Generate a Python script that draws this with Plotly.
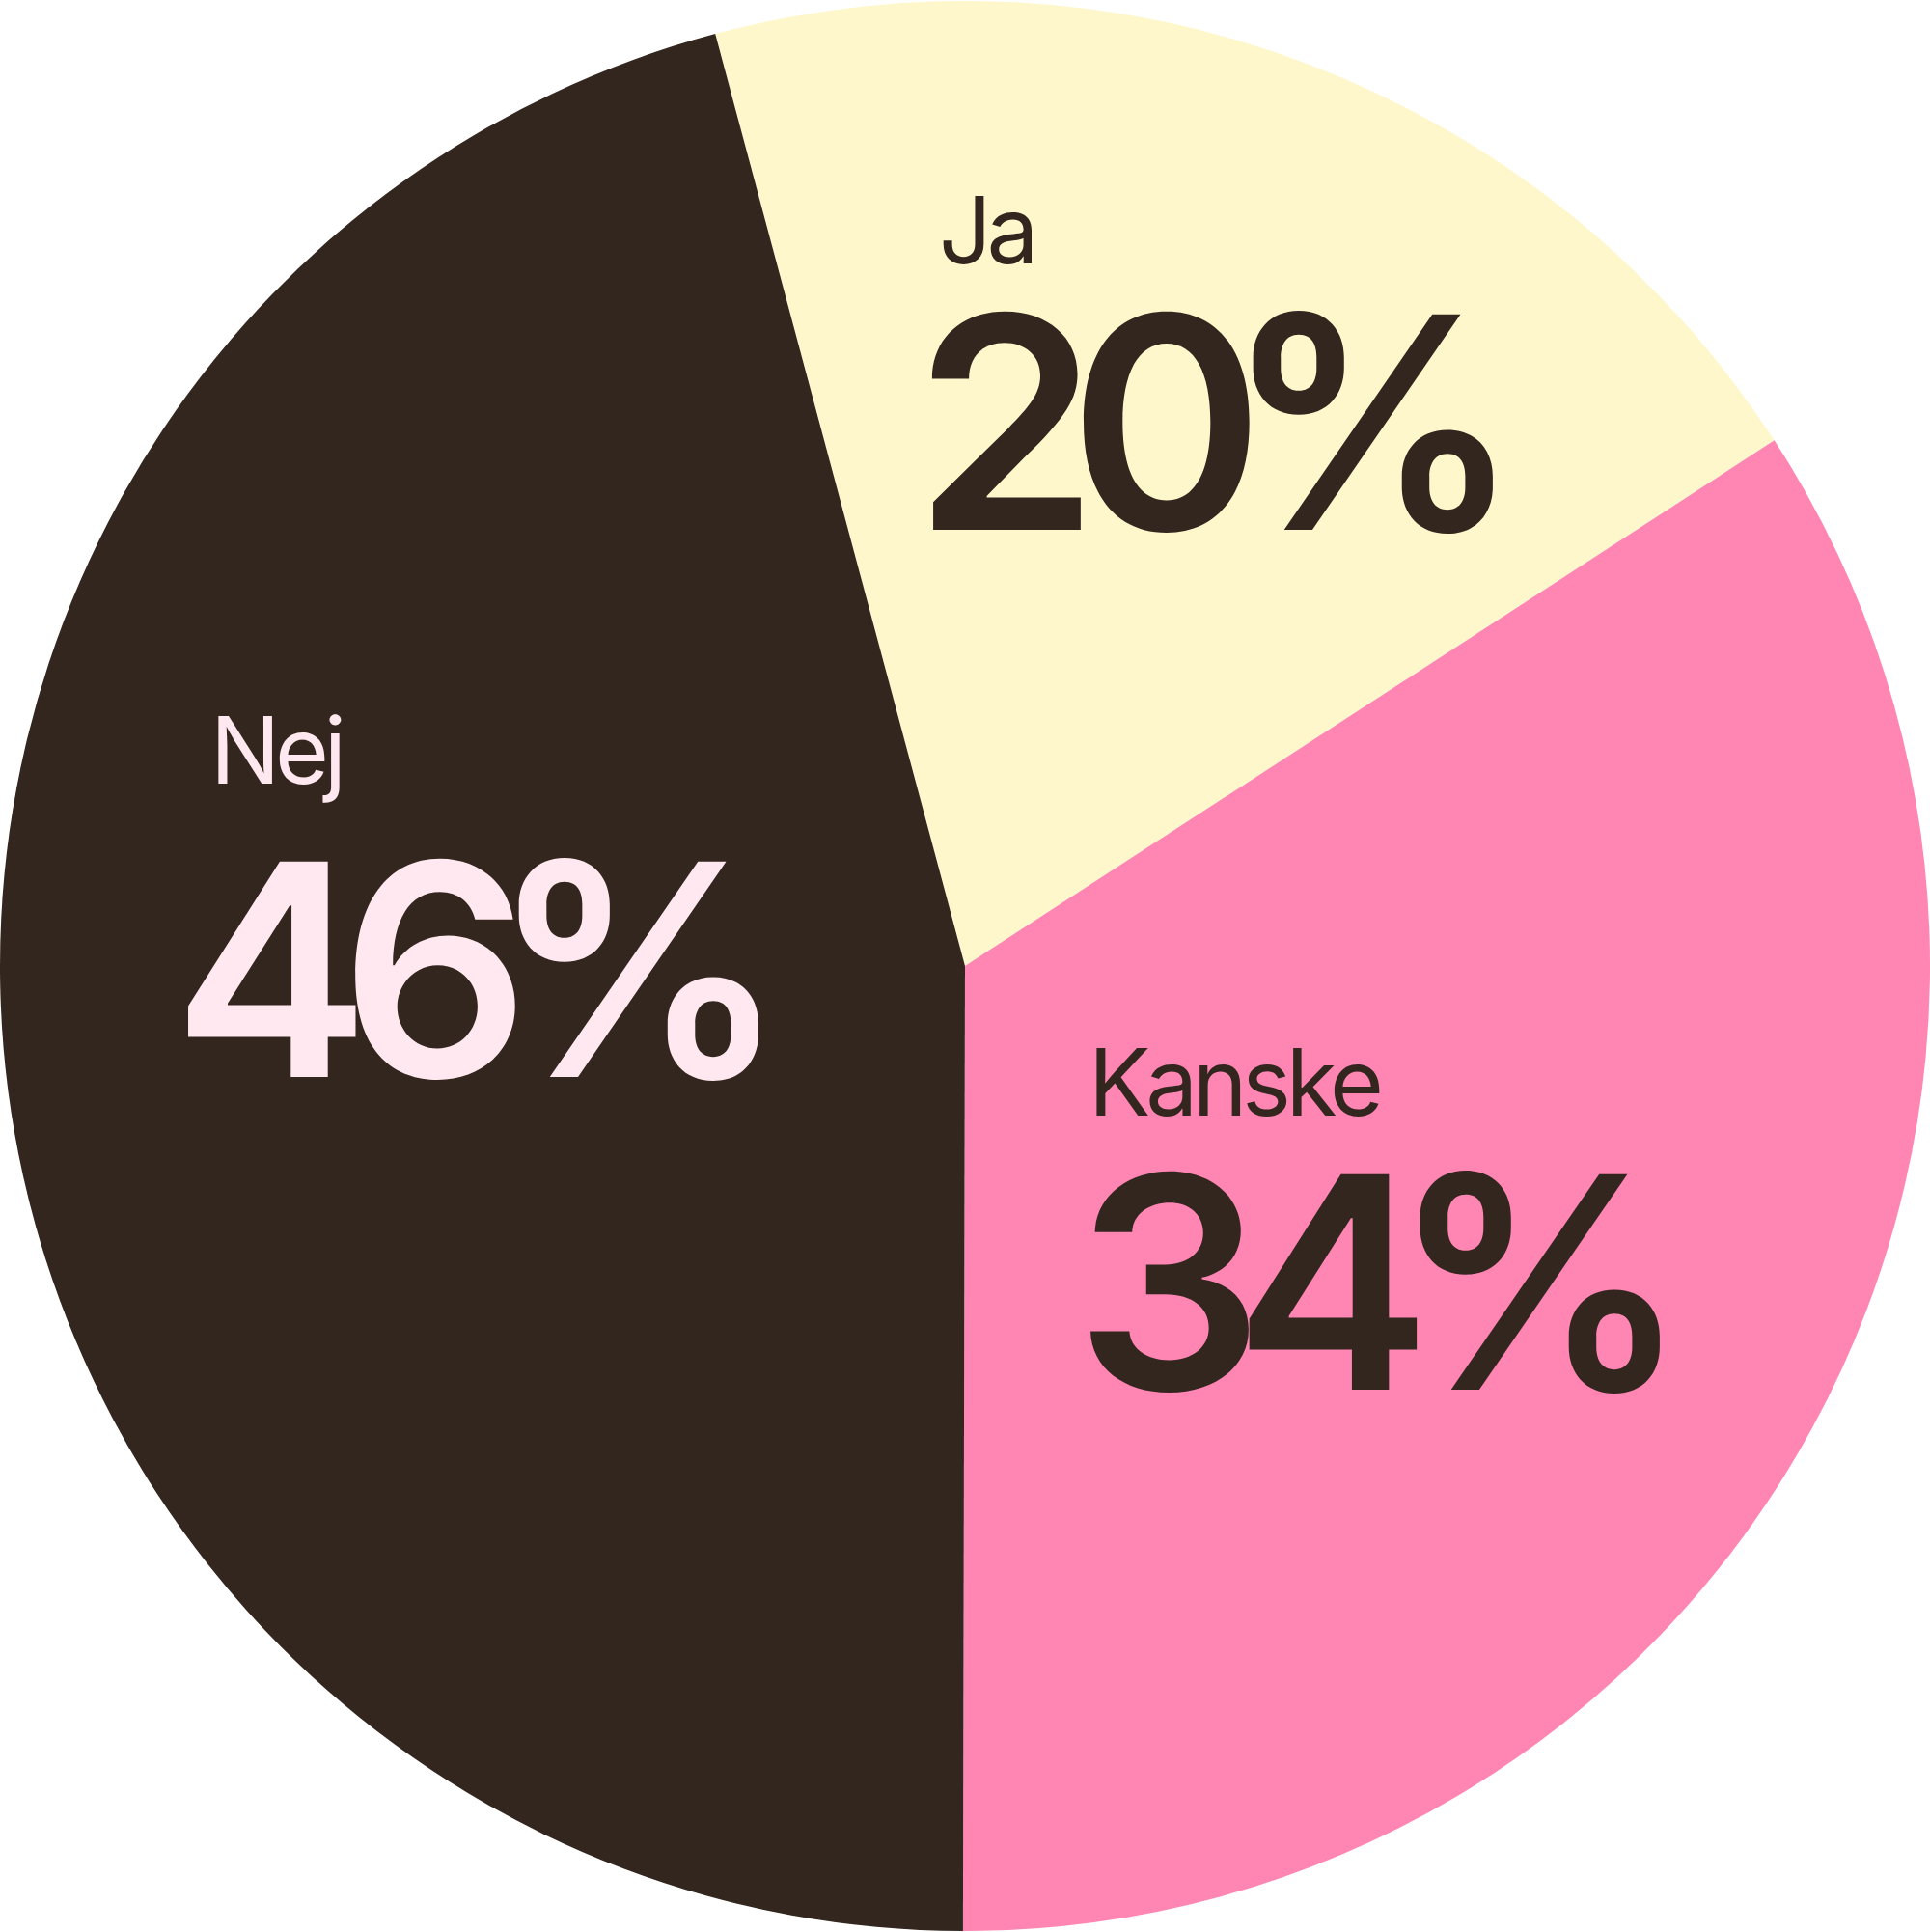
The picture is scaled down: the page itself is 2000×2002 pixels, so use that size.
import plotly.graph_objects as go

# Data
labels = ["Ja", "Kanske", "Nej"]
values = [20.0, 34.2, 45.8]
pct_numbers = [str(round(v)) for v in values]

# Styles
slice_colors = ["#FFF7CC", "#FF85B3", "#33261F"]
text_colors = ["#33261F", "#33261F", "#FFE8EF"]
# left x of label, left x of number, label center y, number center y (px)
label_pos = [(971, 945, 238, 437), (1126, 1112, 1121, 1328), (216, 177, 777, 1004)]

W, H = 2000, 2002
LABEL_SIZE = 96
NUM_SIZE = 307


def pct_markup(num):
    # tighter gap before the percent sign
    return f"{num[:-1]}<span style='letter-spacing:-0.135em'>{num[-1]}</span>%"


fig = go.Figure(go.Pie(
    labels=labels,
    values=values,
    sort=False,
    direction="clockwise",
    rotation=-15,
    marker=dict(colors=slice_colors, line=dict(width=0)),
    textinfo="none",
    hoverinfo="skip",
    showlegend=False,
))

annotations = []
for i, lab in enumerate(labels):
    lx, nx, ly, ny = label_pos[i]
    annotations.append(dict(
        x=lx / W, y=1 - ly / H, xref="paper", yref="paper",
        xanchor="left", yanchor="middle", align="left", showarrow=False,
        text=lab,
        font=dict(family="Inter", size=LABEL_SIZE, color=text_colors[i], weight=400),
    ))
    annotations.append(dict(
        x=nx / W, y=1 - ny / H, xref="paper", yref="paper",
        xanchor="left", yanchor="middle", align="left", showarrow=False,
        text=pct_markup(pct_numbers[i]),
        font=dict(family="Inter", size=NUM_SIZE, color=text_colors[i], weight=600),
    ))

fig.update_layout(
    width=W, height=H,
    margin=dict(l=0, r=0, t=0, b=0),
    paper_bgcolor="white",
    plot_bgcolor="white",
    annotations=annotations,
)

fig.write_html("out.html", config={"displayModeBar": False})

css = (
    "<style>body{margin:0;padding:0;overflow:hidden;}"
    f"text.annotation-text[style*='{NUM_SIZE}px']{{letter-spacing:-0.1em;}}"
    f"text.annotation-text[style*='{LABEL_SIZE}px']{{letter-spacing:-0.055em;}}"
    "</style>"
)
with open("out.html", "r", encoding="utf-8") as f:
    html = f.read()
html = html.replace("<head>", "<head>" + css, 1)
with open("out.html", "w", encoding="utf-8") as f:
    f.write(html)
